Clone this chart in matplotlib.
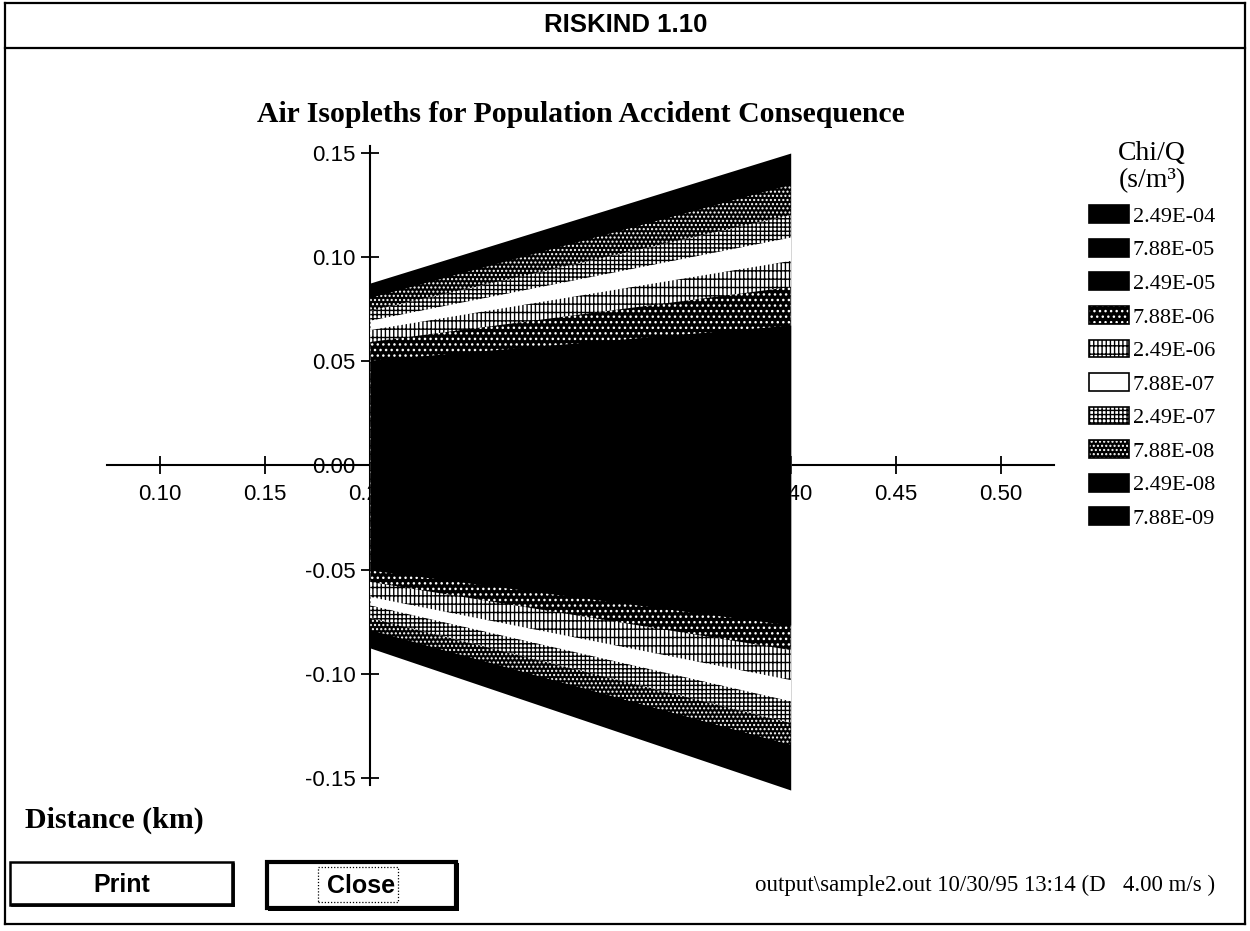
import numpy as np
import matplotlib
matplotlib.use("Agg")
import matplotlib.pyplot as plt
from matplotlib import font_manager
from matplotlib.patches import Patch, Rectangle
from matplotlib.lines import Line2D
from matplotlib.legend_handler import HandlerTuple

# ---------------------------------------------------------------- data
# Chi/Q isopleth levels (s/m^3), highest concentration first
chi_q_levels = ["2.49E-04", "7.88E-05", "2.49E-05", "7.88E-06", "2.49E-06",
                "7.88E-07", "2.49E-07", "7.88E-08", "2.49E-08", "7.88E-09"]

# downwind distances (km) bounding the plotted plume
plume_distance = [0.20, 0.40]

# crosswind position (km) of each isopleth's outer edge at the near and far
# distance; nan where the isopleth merges with a neighbour of the same fill
nan = np.nan
upper_near = [nan, nan, 0.0506, 0.0593, 0.0650, 0.0698, 0.0742, 0.0804, nan, 0.0876]
upper_far = [nan, nan, 0.0674, 0.0857, 0.0982, 0.1097, 0.1202, 0.1347, nan, 0.1500]
lower_near = [nan, nan, -0.0502, -0.0559, -0.0631, -0.0670, -0.0732, -0.0790, nan, -0.0876]
lower_far = [nan, nan, -0.0766, -0.0886, -0.1030, -0.1130, -0.1236, -0.1342, nan, -0.1558]

x_ticks = [0.10, 0.15, 0.20, 0.25, 0.30, 0.35, 0.40, 0.45, 0.50]
y_ticks = [-0.15, -0.10, -0.05, 0.00, 0.05, 0.10, 0.15]

# fill style per level: (face colour, hatch, hatch colour)
level_styles = [
    ("black", None, "black"),
    ("black", None, "black"),
    ("black", None, "black"),
    ("black", "...", "white"),
    ("white", "||||--", "black"),
    ("white", None, "black"),
    ("white", "++++", "black"),
    ("black", "....", "white"),
    ("black", None, "black"),
    ("black", None, "black"),
]

# ---------------------------------------------------------------- fonts
installed = {f.name for f in font_manager.fontManager.ttflist}
SERIF = "Liberation Serif"
SANS = "Liberation Sans"
NARROW = "Liberation Sans Narrow" if "Liberation Sans Narrow" in installed else SANS

plt.rcParams["axes.unicode_minus"] = False
plt.rcParams["hatch.linewidth"] = 1.0

W, H = 1250, 931
fig = plt.figure(figsize=(W / 100, H / 100), dpi=100)


def fx(px):
    return px / W


def fy(py):
    return 1 - py / H


# ---------------------------------------------------------------- window chrome
frame_kw = dict(color="black", lw=1.6, transform=fig.transFigure)
fig.add_artist(Line2D([fx(5), fx(1245)], [fy(3), fy(3)], **frame_kw))
fig.add_artist(Line2D([fx(5), fx(1245)], [fy(48), fy(48)], **frame_kw))
fig.add_artist(Line2D([fx(5), fx(1245)], [fy(924), fy(924)], **frame_kw))
fig.add_artist(Line2D([fx(5), fx(5)], [fy(3), fy(924)], **frame_kw))
fig.add_artist(Line2D([fx(1245), fx(1245)], [fy(3), fy(924)], **frame_kw))

fig.text(fx(626), fy(25), "RISKIND 1.10", ha="center", va="center",
         family=NARROW, weight="bold", size=18.5)

fig.text(fx(581), fy(115), "Air Isopleths for Population Accident Consequence",
         ha="center", va="center", family=SERIF, weight="bold", size=21.4)

fig.text(fx(25), fy(820), "Distance (km)", ha="left", va="center",
         family=SERIF, weight="bold", size=21.5)

# ---------------------------------------------------------------- plot area
ax = fig.add_axes([fx(107.4), fy(798.8), fx(1053.5) - fx(107.4), (798.8 - 132.2) / H])
ax.set_xlim(0.075, 0.525)
ax.set_ylim(-0.16, 0.16)
ax.patch.set_visible(False)

for side in ("top", "right"):
    ax.spines[side].set_visible(False)
ax.spines["left"].set_position(("data", 0.20))
ax.spines["bottom"].set_position(("data", 0.0))
ax.spines["left"].set_bounds(-0.1535, 0.1535)
ax.spines["bottom"].set_bounds(0.075, 0.525)
for side in ("left", "bottom"):
    ax.spines[side].set_linewidth(1.5)

ax.set_xticks(x_ticks)
ax.set_yticks(y_ticks)
ax.set_xticklabels([f"{v:.2f}" for v in x_ticks])
ax.set_yticklabels([f"{v:.2f}" for v in y_ticks])
ax.tick_params(direction="inout", length=13, width=1.3, labelsize=16)
ax.tick_params(axis="x", pad=7)
ax.tick_params(axis="y", pad=4)
for lab in ax.get_xticklabels() + ax.get_yticklabels():
    lab.set_family(SANS)

# isopleth bands, painted from the outermost contour inwards
for i in range(len(chi_q_levels) - 1, -1, -1):
    if np.isnan(upper_near[i]):
        continue
    face, hatch, hcol = level_styles[i]
    ax.fill_between(plume_distance, [lower_near[i], lower_far[i]],
                    [upper_near[i], upper_far[i]],
                    facecolor=face, hatch=hatch, edgecolor=hcol,
                    linewidth=0, zorder=3)

# ---------------------------------------------------------------- legend
handles = []
for face, hatch, hcol in level_styles:
    fill = Patch(facecolor=face, hatch=hatch, edgecolor=hcol, linewidth=0)
    outline = Patch(facecolor="none", edgecolor="black", linewidth=1.2)
    handles.append((fill, outline))

leg = ax.legend(handles, chi_q_levels, handler_map={tuple: HandlerTuple(ndivide=1)},
                loc="upper left", bbox_to_anchor=(fx(1085), fy(137)),
                bbox_transform=fig.transFigure, frameon=False,
                borderpad=0.2, borderaxespad=0, handlelength=1.8,
                handleheight=0.85, handletextpad=0.15, labelspacing=0.54,
                prop={"family": SERIF, "size": 16},
                title="Chi/Q\n(s/m³)",
                title_fontproperties={"family": SERIF, "size": 20})
leg.get_title().set_linespacing(1.1)

# ---------------------------------------------------------------- buttons / footer
def button(x0, y0, x1, y1, label, lw, shadow):
    fig.add_artist(Rectangle((fx(x0), fy(y1)), fx(x1) - fx(x0), fy(y0) - fy(y1),
                             transform=fig.transFigure, facecolor="white",
                             edgecolor="black", linewidth=lw))
    fig.add_artist(Line2D([fx(x0 + 3), fx(x1)], [fy(y1), fy(y1)], color="black",
                          lw=shadow, transform=fig.transFigure))
    fig.add_artist(Line2D([fx(x1), fx(x1)], [fy(y0 + 3), fy(y1)], color="black",
                          lw=shadow, transform=fig.transFigure))
    return fig.text(fx((x0 + x1) / 2), fy((y0 + y1) / 2 + 1), label, ha="center",
                    va="center", family=NARROW, weight="bold", size=18)


button(10, 862, 233, 905, "Print", 1.8, 2.6)
button(267, 862, 456, 908, "Close", 3.0, 3.6)
fig.add_artist(Rectangle((fx(318), fy(902)), fx(398) - fx(318), fy(867) - fy(902),
                         transform=fig.transFigure, facecolor="none",
                         edgecolor="black", linewidth=0.9, linestyle=(0, (1, 1.5))))

fig.text(fx(1215), fy(885), "output\\sample2.out 10/30/95 13:14 (D   4.00 m/s )",
         ha="right", va="center", family=SERIF, size=16.5)

fig.savefig("out.png", dpi=100)
